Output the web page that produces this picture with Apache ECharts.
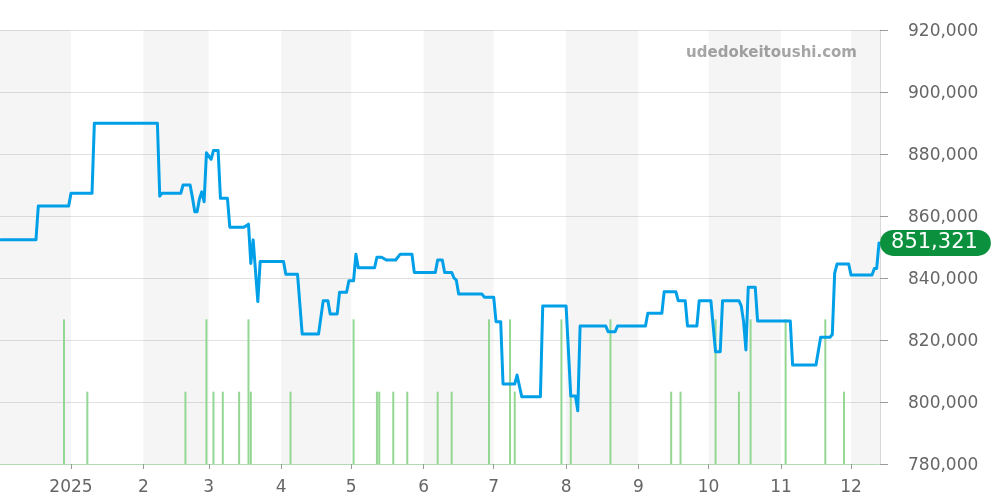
<!DOCTYPE html>
<html>
<head>
<meta charset="utf-8">
<script src="https://cdn.jsdelivr.net/npm/echarts@6/dist/echarts.min.js"></script>
<style>html,body{margin:0;padding:0;background:#fff}#c{width:1000px;height:500px}</style>
</head>
<body>
<div id="c"></div>
<script>
// ---- data ----
const lineDates = [
'2024-12-02','2024-12-17','2024-12-18','2024-12-31','2025-01-01','2025-01-10','2025-01-11','2025-02-07','2025-02-08','2025-02-09',
'2025-02-17','2025-02-18','2025-02-21','2025-02-22','2025-02-23','2025-02-24','2025-02-25','2025-02-26','2025-02-27','2025-02-28',
'2025-03-02','2025-03-03','2025-03-05','2025-03-06','2025-03-09','2025-03-10','2025-03-16','2025-03-17','2025-03-18','2025-03-19',
'2025-03-20','2025-03-22','2025-03-23','2025-04-02','2025-04-03','2025-04-08','2025-04-10','2025-04-17','2025-04-19','2025-04-21',
'2025-04-22','2025-04-25','2025-04-26','2025-04-29','2025-04-30','2025-05-02','2025-05-03','2025-05-04','2025-05-11','2025-05-12',
'2025-05-14','2025-05-16','2025-05-20','2025-05-22','2025-05-27','2025-05-28','2025-06-06','2025-06-07','2025-06-09','2025-06-10',
'2025-06-13','2025-06-14','2025-06-15','2025-06-16','2025-06-26','2025-06-27','2025-07-01','2025-07-02','2025-07-04','2025-07-05',
'2025-07-10','2025-07-11','2025-07-13','2025-07-21','2025-07-22','2025-08-01','2025-08-03','2025-08-05','2025-08-06','2025-08-07',
'2025-08-18','2025-08-19','2025-08-22','2025-08-23','2025-09-04','2025-09-05','2025-09-11','2025-09-12','2025-09-17','2025-09-18',
'2025-09-21','2025-09-22','2025-09-26','2025-09-27','2025-10-02','2025-10-04','2025-10-06','2025-10-07','2025-10-14','2025-10-15',
'2025-10-16','2025-10-17','2025-10-18','2025-10-21','2025-10-22','2025-11-05','2025-11-06','2025-11-16','2025-11-18','2025-11-22',
'2025-11-23','2025-11-24','2025-11-25','2025-11-30','2025-12-01','2025-12-10','2025-12-11','2025-12-12','2025-12-13'
];
const lineValues = [
852300,852300,863200,863200,867300,867300,889900,889900,866400,867300,
867300,870000,870000,866000,861400,861400,865500,867800,864600,880400,
878300,881100,881100,865700,865700,856400,856400,856800,857400,844700,
852300,832400,845300,845300,841200,841200,821900,821900,832700,832700,
828400,828400,835400,835400,839100,839100,847700,843300,843300,846700,
846700,845800,845800,847700,847700,841800,841800,845800,845800,841800,
841800,840000,839300,834800,834800,833800,833800,825900,825900,805800,
805800,808700,801700,801700,831000,831000,801900,801900,797200,824500,
824500,822700,822700,824500,824500,828600,828600,835600,835600,832700,
832700,824500,824500,832700,832700,816200,816200,832700,832700,831000,
826000,816800,837000,837000,826100,826100,811900,811900,820900,820900,
821800,841500,844500,844500,841000,841000,843100,843100,851321
];
const volDates = [
'2024-12-29','2025-01-08','2025-02-19','2025-02-28','2025-03-03','2025-03-07','2025-03-14','2025-03-18','2025-03-19','2025-04-05',
'2025-05-02','2025-05-12','2025-05-13','2025-05-19','2025-05-25','2025-06-07','2025-06-13','2025-06-29','2025-07-08','2025-07-10',
'2025-07-30','2025-08-03','2025-08-20','2025-09-15','2025-09-19','2025-10-04','2025-10-14','2025-10-19','2025-11-03','2025-11-20','2025-11-28'
];
const volCounts = [
2,1,1,2,1,1,1,2,1,1,
2,1,1,1,1,1,1,2,2,1,
2,1,2,1,1,2,1,2,2,2,1
];
const monthTicks = ['2025-01-01','2025-02-01','2025-03-01','2025-04-01','2025-05-01','2025-06-01','2025-07-01','2025-08-01','2025-09-01','2025-10-01','2025-11-01','2025-12-01'];
const shadedMonths = [['2024-12-01','2025-01-01'],['2025-02-01','2025-03-01'],['2025-04-01','2025-05-01'],['2025-06-01','2025-07-01'],['2025-08-01','2025-09-01'],['2025-10-01','2025-11-01'],['2025-12-01','2025-12-31']];
const yTicks = {min: 780000, max: 920000, interval: 20000};
const watermark = 'udedokeitoushi.com';

function ts(s){const p=s.split('-').map(Number);return new Date(p[0],p[1]-1,p[2]).getTime();}
const axisMin = new Date(2024,11,1,14,24).getTime();
const axisMax = new Date(2025,11,13,10,0).getTime();

const chart = echarts.init(document.getElementById('c'), null, {renderer:'canvas'});
const font = 'DejaVu Sans';
chart.setOption({
  animation:false,
  textStyle:{fontFamily:font},
  grid:{left:0,right:120,top:30,bottom:36,containLabel:false},
  xAxis:{
    type:'value', min:axisMin, max:axisMax, scale:true,
    axisLine:{show:true,lineStyle:{color:'#a9d9a9',type:'dotted',width:1}},
    axisTick:{show:true,length:5,lineStyle:{color:'#999'},customValues:monthTicks.map(ts)},
    axisLabel:{color:'#666',fontSize:17,fontFamily:font,margin:15,customValues:monthTicks.map(ts),
      formatter:function(v){const d=new Date(v);return d.getMonth()===0?String(d.getFullYear()):String(d.getMonth()+1);}},
    splitLine:{show:false}
  },
  yAxis:[{
    type:'value', position:'right', min:yTicks.min, max:yTicks.max, interval:yTicks.interval,
    axisLine:{show:true,lineStyle:{color:'#d8d8d8'}},
    axisTick:{show:true,length:8,lineStyle:{color:'#999'}},
    axisLabel:{color:'#666',fontSize:17,fontFamily:font,margin:28,
      rich:{v:{color:'#666',fontSize:17,fontFamily:font,padding:[4,0,0,0]}},
      formatter:function(v){return '{v|'+v.toLocaleString('en-US')+'}';}},
    splitLine:{show:true,lineStyle:{color:'#e2e2e2'}}
  },{
    type:'value', min:0, max:6, show:false
  }],
  graphic:[{type:'text',right:143,top:46,style:{text:watermark,fill:'#a6a6a6',font:'bold 15px "DejaVu Sans"'}}],
  series:[{
    type:'bar', yAxisIndex:1, barWidth:2,
    itemStyle:{color:'#93d793'},
    data: volDates.map((d,i)=>[ts(d),volCounts[i]]),
    silent:true,
    markArea:{silent:true,itemStyle:{color:'rgba(0,0,0,0.04)'},
      data: shadedMonths.map(m=>[{xAxis:ts(m[0])},{xAxis:Math.min(ts(m[1]),axisMax)}])}
  },{
    type:'line', yAxisIndex:0, showSymbol:false, symbol:'none',
    lineStyle:{color:'#00a0e9',width:3,join:'round',cap:'round'},
    itemStyle:{color:'#00a0e9'},
    data: lineDates.map((d,i)=>[ts(d),lineValues[i]]),
    endLabel:{show:true,distance:1,color:'#fff',fontSize:21,fontFamily:font,lineHeight:21,
      backgroundColor:'#0b913d',borderRadius:13,padding:[3,13,2,11],
      formatter:function(p){return p.value[1].toLocaleString('en-US');}}
  }]
});
</script>
</body>
</html>
